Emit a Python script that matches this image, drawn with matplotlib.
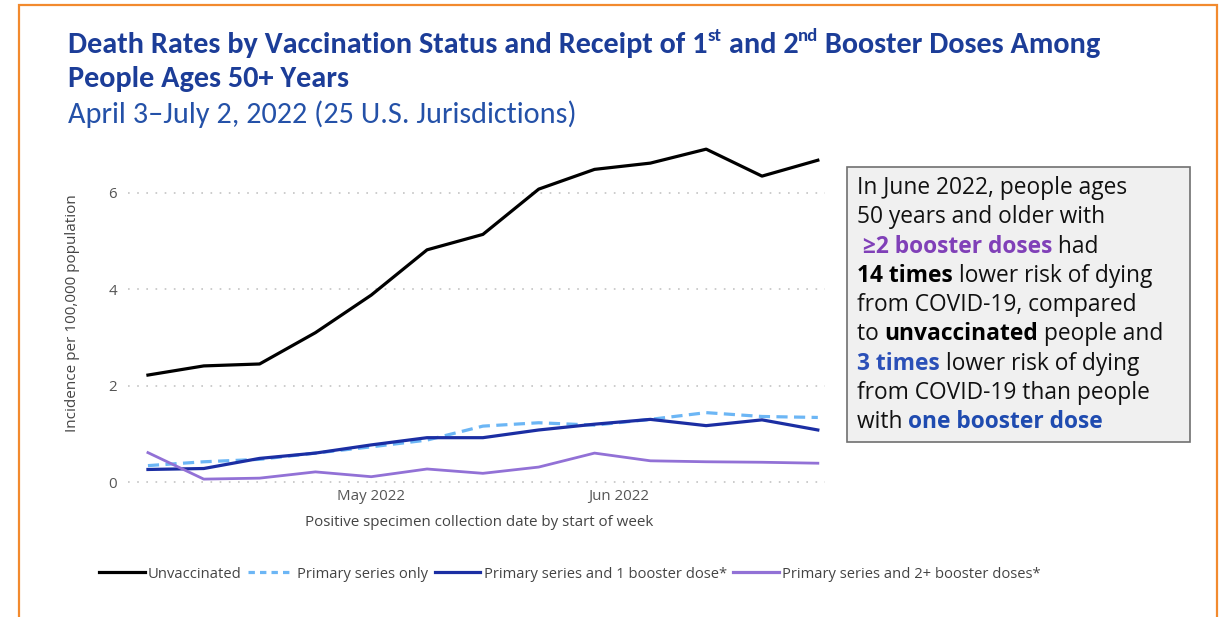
import matplotlib
matplotlib.use("Agg")
import matplotlib.pyplot as plt
from matplotlib import font_manager
from matplotlib.patches import Rectangle
from matplotlib.lines import Line2D
import pandas as pd

# ---------------- data ----------------
week_start = pd.date_range("2022-04-03", periods=13, freq="7D")
unvaccinated = [2.22, 2.41, 2.45, 3.10, 3.88, 4.82, 5.14, 6.08, 6.49, 6.62, 6.91, 6.35, 6.68]
primary_only = [0.34, 0.42, 0.47, 0.60, 0.73, 0.87, 1.16, 1.23, 1.18, 1.30, 1.44, 1.36, 1.34]
one_booster = [0.26, 0.28, 0.49, 0.60, 0.77, 0.92, 0.92, 1.08, 1.20, 1.30, 1.17, 1.29, 1.08]
two_booster = [0.61, 0.06, 0.08, 0.21, 0.11, 0.27, 0.18, 0.31, 0.60, 0.44, 0.42, 0.41, 0.39]
series_labels = ["Unvaccinated", "Primary series only",
                 "Primary series and 1 booster dose*", "Primary series and 2+ booster doses*"]
y_ticks = [0, 2, 4, 6]
x_tick_dates = ["2022-05-01", "2022-06-01"]
x_tick_labels = ["May 2022", "Jun 2022"]

# ---------------- fonts ----------------
avail = {f.name for f in font_manager.fontManager.ttflist}
def pick(*names):
    for n in names:
        if n in avail:
            return n
    return "DejaVu Sans"
NARROW = pick("Carlito", "Liberation Sans Narrow", "Roboto Condensed", "Liberation Sans")
BODY = pick("Open Sans", "Noto Sans", "DejaVu Sans")

W, H = 1225, 617
fig = plt.figure(figsize=(W / 100, H / 100), dpi=100)
fig.patch.set_facecolor("white")
renderer = fig.canvas.get_renderer()

def fx(px):
    return px / W

def fy(py):
    return 1 - py / H

# ---------------- axes ----------------
ax_top, ax_bot, ax_l, ax_r = 140, 485, 128, 825
ax = fig.add_axes([fx(ax_l), fy(ax_bot), fx(ax_r) - fx(ax_l), (ax_bot - ax_top) / H])
ppu = 48.17
ax.set_ylim(-(ax_bot - 482) / ppu, (482 - ax_top) / ppu)
day = pd.Timedelta(days=1)
ax.set_xlim(week_start[0] - 2.5 * day, week_start[-1] + 0.9 * day)

ax.plot(week_start, unvaccinated, color="#000000", lw=2.3, zorder=3)
ax.plot(week_start, primary_only, color="#6cb6f5", lw=2.3, dashes=(3.5, 2), zorder=3)
ax.plot(week_start, one_booster, color="#1b2ea3", lw=2.3, zorder=4)
ax.plot(week_start, two_booster, color="#9271d6", lw=2.0, zorder=5)

for s in ax.spines.values():
    s.set_visible(False)
ax.set_yticks(y_ticks)
ax.set_yticklabels([str(v) for v in y_ticks], fontfamily=BODY, fontsize=10.8, color="#555555")
ax.set_xticks(pd.to_datetime(x_tick_dates))
ax.set_xticklabels(x_tick_labels, fontfamily=BODY, fontsize=10.8, color="#555555")
ax.tick_params(axis="both", length=0)
ax.tick_params(axis="y", pad=8)
ax.tick_params(axis="x", pad=3)
ax.grid(axis="y", color="#c4c4c4", lw=1.2, linestyle=(0, (1, 4.5)))
ax.grid(axis="x", visible=False)
ax.set_axisbelow(True)

fig.text(fx(73), fy(313), "Incidence per 100,000 population", rotation=90,
         ha="center", va="center", fontfamily=BODY, fontsize=11, color="#444444")
fig.text(fx(479), fy(523), "Positive specimen collection date by start of week",
         ha="center", va="center", fontfamily=BODY, fontsize=10.9, color="#444444")

# ---------------- segmented text helper ----------------
def width_px(txt, props):
    t = fig.text(0, 0, txt + "|", **props)
    w1 = t.get_window_extent(renderer).width
    t.set_text("|")
    w2 = t.get_window_extent(renderer).width
    t.remove()
    return w1 - w2

def seg_line(x_px, base_y, segs, base):
    x = x_px
    for txt, kw in segs:
        props = dict(base)
        props.update(kw)
        dy = props.pop("lift", 0)
        fig.text(fx(x), fy(base_y - dy), txt, ha="left", va="baseline", **props)
        x += width_px(txt, props)
    return x

# ---------------- title ----------------
tcol = "#1c3d98"
tb = dict(fontfamily=NARROW, fontsize=21.8, fontweight="bold", color=tcol)
sup = dict(fontsize=13.5, lift=12)
seg_line(68, 53, [("Death Rates by Vaccination Status and Receipt of 1", {}),
                  ("st", sup), (" and 2", {}), ("nd", sup),
                  (" Booster Doses Among", {})], tb)
seg_line(68, 87, [("People Ages 50+ Years", {})], tb)
seg_line(68, 123, [("April 3\u2013July 2, 2022 (25 U.S. Jurisdictions)", {})],
         dict(fontfamily=NARROW, fontsize=21.8, color="#2451a8"))

# ---------------- annotation box ----------------
fig.patches.append(Rectangle((fx(847), fy(442)), fx(1190) - fx(847), (442 - 167) / H,
                             transform=fig.transFigure, facecolor="#f0f0f0",
                             edgecolor="#707070", lw=1.2, zorder=1))
ab = dict(fontfamily=[BODY, "DejaVu Sans"], fontsize=16.4, color="#111111", zorder=2)
lines = [
    [("In June 2022, people ages", {})],
    [("50 years and older with", {})],
    [(" \u22652 booster doses", dict(fontweight="bold", color="#8040b8")), (" had", {})],
    [("14 times", dict(fontweight="bold", color="#000000")), (" lower risk of dying", {})],
    [("from COVID-19, compared", {})],
    [("to ", {}), ("unvaccinated", dict(fontweight="bold", color="#000000")), (" people and", {})],
    [("3 times", dict(fontweight="bold", color="#2b50b8")), (" lower risk of dying", {})],
    [("from COVID-19 than people", {})],
    [("with ", {}), ("one booster dose", dict(fontweight="bold", color="#1f4bb0"))],
]
y0 = 194
for i, segs in enumerate(lines):
    seg_line(857, y0 + i * 29.3, segs, ab)

# ---------------- legend ----------------
handles = [Line2D([], [], color="#000000", lw=2.3),
           Line2D([], [], color="#6cb6f5", lw=2.3, dashes=(2, 1.6)),
           Line2D([], [], color="#1b2ea3", lw=2.3),
           Line2D([], [], color="#9271d6", lw=2.3)]
fig.legend(handles, series_labels, loc="center left", bbox_to_anchor=(fx(99), fy(574)),
           ncol=4, frameon=False, borderaxespad=0, borderpad=0,
           handlelength=3.1, handletextpad=0.22, columnspacing=0.45,
           prop=dict(family=BODY, size=10.6), labelcolor="#444444")

# ---------------- outer orange frame ----------------
fig.patches.append(Rectangle((fx(19), fy(760)), fx(1217) - fx(19), (760 - 5) / H,
                             transform=fig.transFigure, fill=False,
                             edgecolor="#f28a2e", lw=1.6, zorder=0))

fig.savefig("out.png", dpi=100)
